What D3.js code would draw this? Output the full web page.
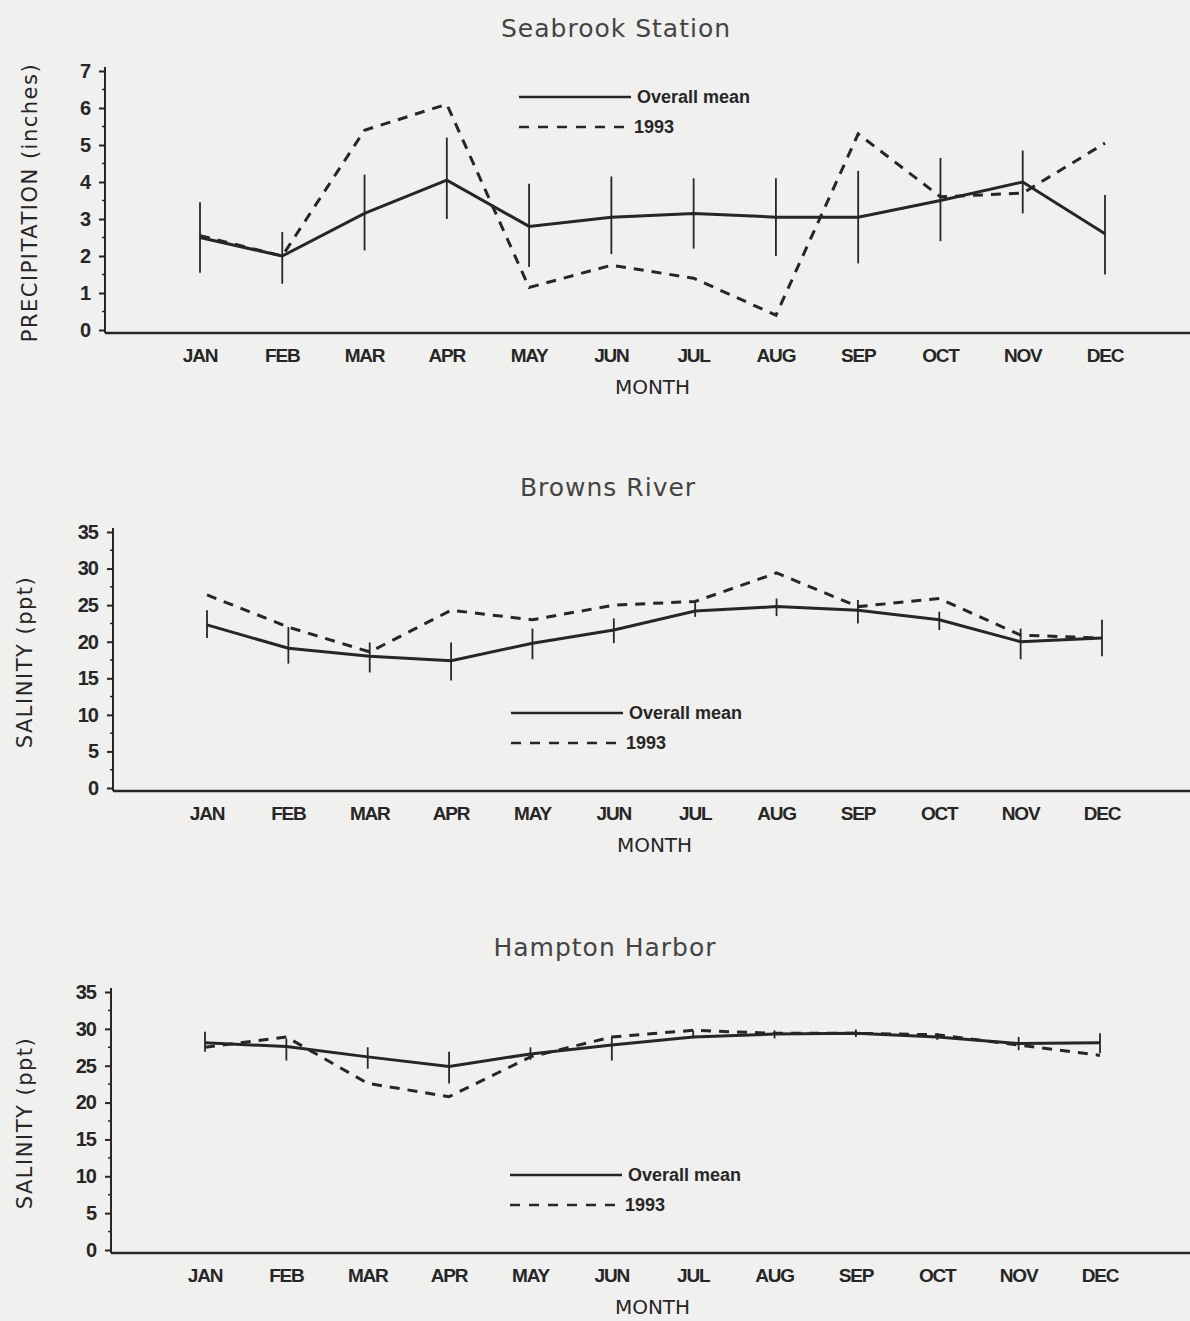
<!DOCTYPE html>
<html>
<head>
<meta charset="utf-8">
<script src="https://cdn.jsdelivr.net/npm/d3@7"></script>
<style>
  body { margin: 0; background: #f0f0ee; }
  svg { display: block; }
</style>
</head>
<body>
<svg id="chart" width="1190" height="1321"></svg>
<script>
var months = ['JAN','FEB','MAR','APR','MAY','JUN','JUL','AUG','SEP','OCT','NOV','DEC'];

// Seabrook Station precipitation (inches)
var precipMean = [2.5, 2.0, 3.15, 4.05, 2.8, 3.05, 3.15, 3.05, 3.05, 3.5, 4.0, 2.6];
var precipLow  = [1.55, 1.25, 2.15, 3.0, 1.7, 2.05, 2.2, 2.0, 1.8, 2.4, 3.15, 1.5];
var precipHigh = [3.45, 2.65, 4.2, 5.2, 3.95, 4.15, 4.1, 4.1, 4.3, 4.65, 4.85, 3.65];
var precip1993 = [2.55, 2.0, 5.4, 6.1, 1.15, 1.75, 1.4, 0.4, 5.3, 3.6, 3.7, 5.05];

// Browns River salinity (ppt)
var brownsMean = [22.3, 19.1, 18.0, 17.4, 19.8, 21.6, 24.2, 24.8, 24.3, 23.0, 20.0, 20.5];
var brownsLow  = [20.5, 17.0, 15.8, 14.7, 17.6, 19.8, 23.4, 23.5, 22.5, 21.6, 17.6, 18.0];
var brownsHigh = [24.3, 22.0, 19.9, 19.9, 21.8, 23.2, 25.5, 25.9, 25.7, 24.1, 21.8, 23.0];
var browns1993 = [26.4, 22.0, 18.6, 24.3, 23.0, 25.0, 25.5, 29.4, 24.8, 25.9, 20.9, 20.5];

// Hampton Harbor salinity (ppt)
var hamptonMean = [28.1, 27.6, 26.2, 24.9, 26.6, 27.8, 28.9, 29.3, 29.4, 28.9, 28.0, 28.1];
var hamptonLow  = [26.9, 25.7, 24.6, 22.6, 25.8, 25.7, 28.7, 28.7, 28.9, 28.5, 27.1, 26.7];
var hamptonHigh = [29.6, 28.7, 27.5, 26.9, 27.5, 28.9, 29.8, 29.8, 29.9, 29.4, 28.9, 29.4];
var hampton1993 = [27.5, 28.9, 22.6, 20.8, 26.2, 28.9, 29.8, 29.4, 29.4, 29.2, 27.8, 26.4];

var titles = ['Seabrook Station', 'Browns River', 'Hampton Harbor'];
var yLabels = ['PRECIPITATION (inches)', 'SALINITY (ppt)', 'SALINITY (ppt)'];
var legendLabels = ['Overall mean', '1993'];

var ink = '#262626';
var svg = d3.select('#chart');

// layout of each panel (pixels)
var panels = [
  {mean: precipMean, low: precipLow, high: precipHigh, y93: precip1993,
   max: 7, step: 1, minor: 0.5, top: 71, bottom: 330, axisX: 105, left: 200, right: 1105,
   titleY: 28, titleX: 616, legX: 519, legY: 97, labelX: 30},
  {mean: brownsMean, low: brownsLow, high: brownsHigh, y93: browns1993,
   max: 35, step: 5, minor: 2.5, top: 532, bottom: 788, axisX: 113, left: 207, right: 1102,
   titleY: 487, titleX: 608, legX: 511, legY: 713, labelX: 25},
  {mean: hamptonMean, low: hamptonLow, high: hamptonHigh, y93: hampton1993,
   max: 35, step: 5, minor: 2.5, top: 992, bottom: 1250, axisX: 111, left: 205, right: 1100,
   titleY: 947, titleX: 605, legX: 510, legY: 1175, labelX: 25}
];

panels.forEach(function(p, k) {
  var g = svg.append('g');

  var xScale = d3.scalePoint()
    .domain(months)
    .range([p.left, p.right]);

  var yScale = d3.scaleLinear()
    .domain([0, p.max])
    .range([p.bottom, p.top]);

  var baseY = p.bottom + 3;

  // title
  g.append('text')
    .attr('x', p.titleX)
    .attr('y', p.titleY)
    .attr('dy', '0.35em')
    .attr('text-anchor', 'middle')
    .attr('font-family', 'DejaVu Sans')
    .attr('font-size', 25)
    .attr('letter-spacing', 1)
    .attr('fill', '#444')
    .text(titles[k]);

  // y axis
  var yAxis = g.append('g')
    .attr('transform', 'translate(' + p.axisX + ',0)')
    .call(d3.axisLeft(yScale)
      .tickValues(d3.range(0, p.max + 0.001, p.step))
      .tickSize(6)
      .tickPadding(9)
      .tickFormat(d3.format('d')));
  yAxis.select('.domain').remove();
  yAxis.selectAll('line').attr('stroke', ink).attr('stroke-width', 2);
  yAxis.selectAll('text')
    .attr('font-family', 'Liberation Sans')
    .attr('font-weight', 'bold')
    .attr('font-size', 20)
    .attr('letter-spacing', -1)
    .attr('fill', ink);

  g.append('line')
    .attr('x1', p.axisX).attr('x2', p.axisX)
    .attr('y1', yScale(p.max) - 4).attr('y2', baseY)
    .attr('stroke', ink).attr('stroke-width', 2);

  // minor ticks
  g.selectAll('.minor')
    .data(d3.range(p.minor, p.max, p.step))
    .join('line')
    .attr('x1', p.axisX - 3).attr('x2', p.axisX)
    .attr('y1', d => yScale(d)).attr('y2', d => yScale(d))
    .attr('stroke', ink).attr('stroke-width', 1.5);

  // x axis
  g.append('line')
    .attr('x1', p.axisX).attr('x2', 1190)
    .attr('y1', baseY).attr('y2', baseY)
    .attr('stroke', ink).attr('stroke-width', 2.5);

  g.selectAll('.month')
    .data(months)
    .join('text')
    .attr('x', d => xScale(d))
    .attr('y', baseY + 22)
    .attr('dy', '0.35em')
    .attr('text-anchor', 'middle')
    .attr('font-family', 'Liberation Sans')
    .attr('font-weight', 'bold')
    .attr('font-size', 19)
    .attr('letter-spacing', -1.2)
    .attr('fill', ink)
    .text(d => d);

  g.append('text')
    .attr('x', (xScale('JUN') + xScale('JUL')) / 2)
    .attr('y', baseY + 54)
    .attr('dy', '0.35em')
    .attr('text-anchor', 'middle')
    .attr('font-family', 'DejaVu Sans')
    .attr('font-size', 20)
    .attr('fill', ink)
    .text('MONTH');

  g.append('text')
    .attr('transform', 'translate(' + p.labelX + ',' + ((p.top + p.bottom) / 2 + 2) + ') rotate(-90)')
    .attr('dy', '0.35em')
    .attr('text-anchor', 'middle')
    .attr('font-family', 'DejaVu Sans')
    .attr('font-size', 21)
    .attr('letter-spacing', 1.5)
    .attr('fill', ink)
    .text(yLabels[k]);

  // error bars
  g.selectAll('.err')
    .data(months)
    .join('line')
    .attr('x1', d => xScale(d)).attr('x2', d => xScale(d))
    .attr('y1', (d, i) => yScale(p.low[i]))
    .attr('y2', (d, i) => yScale(p.high[i]))
    .attr('stroke', ink).attr('stroke-width', 1.8);

  var line = d3.line()
    .x((d, i) => xScale(months[i]))
    .y(d => yScale(d));

  // 1993
  g.append('path')
    .datum(p.y93)
    .attr('fill', 'none')
    .attr('stroke', ink)
    .attr('stroke-width', 3)
    .attr('stroke-dasharray', '10,8')
    .attr('d', line);

  // overall mean
  g.append('path')
    .datum(p.mean)
    .attr('fill', 'none')
    .attr('stroke', ink)
    .attr('stroke-width', 3)
    .attr('d', line);

  // legend
  var leg = g.append('g').attr('transform', 'translate(' + p.legX + ',' + p.legY + ')');
  leg.append('line')
    .attr('x1', 0).attr('x2', 112).attr('y1', 0).attr('y2', 0)
    .attr('stroke', ink).attr('stroke-width', 2.5);
  leg.append('line')
    .attr('x1', 0).attr('x2', 110).attr('y1', 30).attr('y2', 30)
    .attr('stroke', ink).attr('stroke-width', 2.5)
    .attr('stroke-dasharray', '10,9');
  leg.selectAll('.legtext')
    .data(legendLabels)
    .join('text')
    .attr('x', (d, i) => i == 0 ? 118 : 115)
    .attr('y', (d, i) => i * 30)
    .attr('dy', '0.35em')
    .attr('font-family', 'Liberation Sans')
    .attr('font-weight', 'bold')
    .attr('font-size', 18)
    .attr('fill', ink)
    .text(d => d);
});
</script>
</body>
</html>
